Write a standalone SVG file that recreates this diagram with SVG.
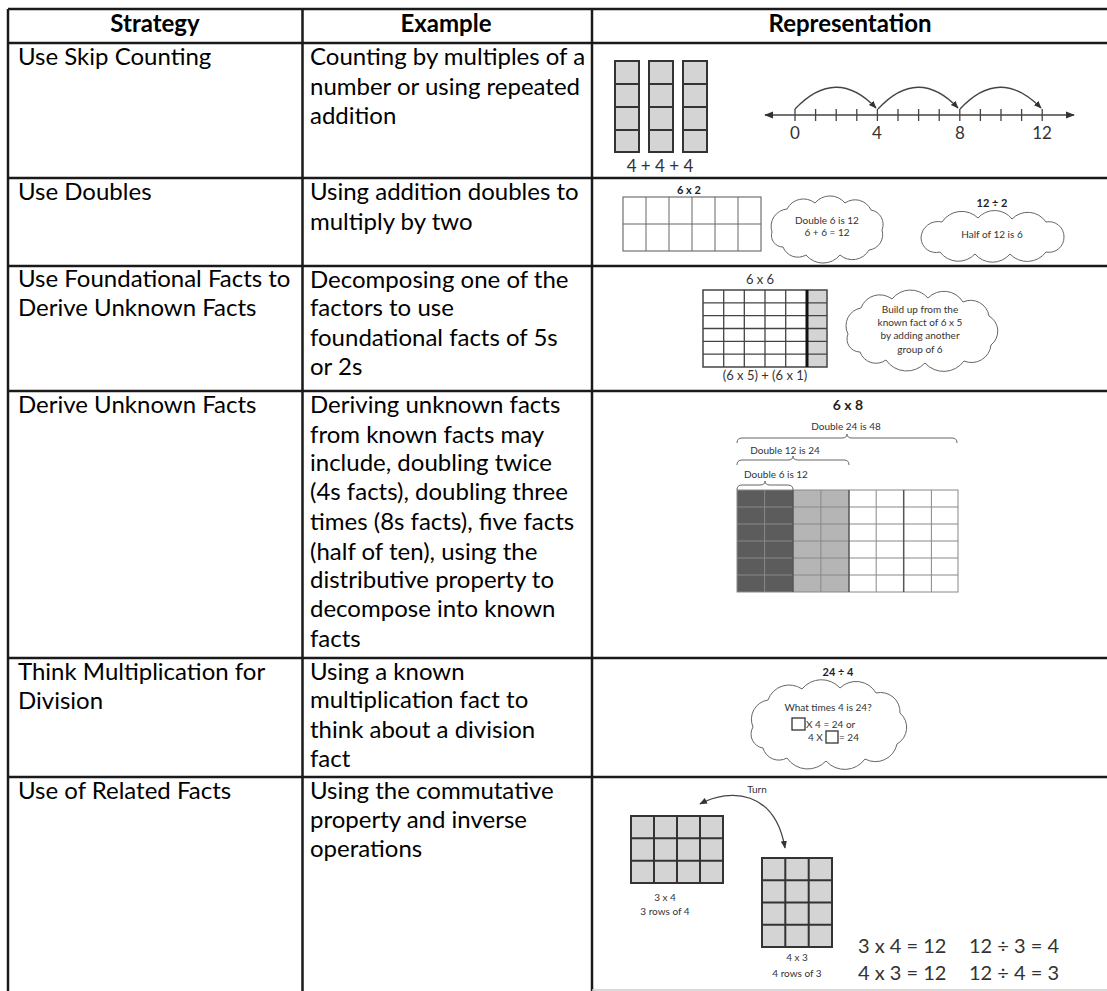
<svg xmlns="http://www.w3.org/2000/svg" width="1107" height="991" viewBox="0 0 1107 991">
<style>
.t{font-family:Lato,"Open Sans","Liberation Sans",sans-serif;font-size:24px;fill:#000}
.h{font-family:Lato,"Open Sans","Liberation Sans",sans-serif;font-size:24px;font-weight:bold;fill:#000;text-anchor:middle}
.s{font-family:Lato,"Liberation Sans",sans-serif;font-size:10px;fill:#333;text-anchor:middle}
.sb{font-family:Lato,"Liberation Sans",sans-serif;font-size:11px;font-weight:bold;fill:#222;text-anchor:middle}
.m{font-family:Lato,"Liberation Sans",sans-serif;font-size:13px;fill:#333;text-anchor:middle}
.num{font-family:Lato,"Liberation Sans",sans-serif;font-size:17px;fill:#333;text-anchor:middle}
.eq{font-family:Lato,"Liberation Sans",sans-serif;font-size:20px;fill:#333}
.grid{stroke:#333;stroke-width:2;fill:#d4d4d4}
.thin{stroke:#666;stroke-width:1;fill:none}
.cloud{stroke:#666;stroke-width:1;fill:#fff}
.tbl{stroke:#1a1a1a;stroke-width:2.5;fill:none}
.arc{stroke:#444;stroke-width:1.3;fill:none}
</style>
<defs>
<marker id="ah" viewBox="0 0 10 10" refX="9" refY="5" markerWidth="6" markerHeight="6" orient="auto"><path d="M0,1 L10,5 L0,9 Z" fill="#333"/></marker>
<marker id="ahs" viewBox="0 0 10 10" refX="1" refY="5" markerWidth="6" markerHeight="6" orient="auto"><path d="M10,1 L0,5 L10,9 Z" fill="#333"/></marker>
</defs>
<rect width="1107" height="991" fill="#fff"/>

<g id="table">
<path class="tbl" d="M8,9 H1107 M8,43 H1107 M8,178 H1107 M8,266 H1107 M8,391 H1107 M8,658 H1107 M8,777 H1107 M8,9 V991 M302.5,9 V991 M592,9 V991"/>
<line x1="592" y1="990" x2="1107" y2="990" stroke="#ccc" stroke-width="1.5"/>
</g>

<g id="header">
<text class="h" x="155" y="32">Strategy</text>
<text class="h" x="446" y="32">Example</text>
<text class="h" x="850" y="32">Representation</text>
</g>

<g id="row1">
<text class="t" x="18" y="65">Use Skip Counting</text>
<text class="t" x="310" y="65">Counting by multiples of a</text>
<text class="t" x="310" y="95">number or using repeated</text>
<text class="t" x="310" y="124">addition</text>
<g id="bars">
<rect class="grid" x="615" y="61" width="24" height="91"/>
<rect class="grid" x="649" y="61" width="24" height="91"/>
<rect class="grid" x="683" y="61" width="24" height="91"/>
<path stroke="#333" stroke-width="2" d="M615,84 H639 M615,107 H639 M615,130 H639 M649,84 H673 M649,107 H673 M649,130 H673 M683,84 H707 M683,107 H707 M683,130 H707"/>
<text class="num" x="660" y="172">4 + 4 + 4</text>
</g>
<g id="numberline">
<line x1="765" y1="115" x2="1074" y2="115" stroke="#444" stroke-width="1.5" marker-start="url(#ahs)" marker-end="url(#ah)"/>
<path stroke="#444" stroke-width="1.3" d="M795,109 V121 M815.6,109 V121 M836.2,109 V121 M856.8,109 V121 M877.4,109 V121 M898,109 V121 M918.6,109 V121 M939.2,109 V121 M959.8,109 V121 M980.4,109 V121 M1001,109 V121 M1021.6,109 V121 M1042.2,109 V121"/>
<text class="num" x="795" y="139">0</text>
<text class="num" x="877" y="139">4</text>
<text class="num" x="960" y="139">8</text>
<text class="num" x="1042" y="139">12</text>
<path class="arc" d="M795,109 Q836,66 876,108" marker-end="url(#ah)"/>
<path class="arc" d="M878,109 Q918,66 958,108" marker-end="url(#ah)"/>
<path class="arc" d="M960,109 Q1000,66 1041,108" marker-end="url(#ah)"/>
</g>
</g>

<g id="row2">
<text class="t" x="18" y="200">Use Doubles</text>
<text class="t" x="310" y="200">Using addition doubles to</text>
<text class="t" x="310" y="230">multiply by two</text>
<text class="sb" x="689" y="194">6 x 2</text>
<rect x="623" y="197" width="138" height="54" fill="#fff" stroke="#555" stroke-width="1"/>
<path class="thin" d="M646,197 V251 M669,197 V251 M692,197 V251 M715,197 V251 M738,197 V251 M623,224 H761"/>
<path class="cloud" d="M772,232 A17.5,17.5 0 0 1 787,209 A18.5,18.5 0 0 1 815,203 A19.5,19.5 0 0 1 845,203 A17.5,17.5 0 0 1 871,210 A14.6,14.6 0 0 1 882,230 A15.5,15.5 0 0 1 869,250 A19,19 0 0 1 840,255 A22,22 0 0 1 806,255 A16,16 0 0 1 783,247 A11.5,11.5 0 0 1 772,232 Z"/>
<text class="s" x="827" y="224">Double 6 is 12</text>
<text class="s" x="827" y="236">6 + 6 = 12</text>
<text class="sb" x="992" y="207">12 ÷ 2</text>
<path class="cloud" d="M921,238 A17,17 0 0 1 942,222 A23.5,23.5 0 0 1 978,218 A22.1,22.1 0 0 1 1012,219 A22,22 0 0 1 1046,222 A15,15 0 0 1 1064,237 A15,15 0 0 1 1046,252 A23.5,23.5 0 0 1 1010,254 A22.8,22.8 0 0 1 975,254 A22.8,22.8 0 0 1 940,252 A15,15 0 0 1 921,238 Z"/>
<text class="s" x="992" y="238">Half of 12 is 6</text>
</g>

<g id="row3">
<text class="t" x="18" y="287">Use Foundational Facts to</text>
<text class="t" x="18" y="316">Derive Unknown Facts</text>
<text class="t" x="310" y="288">Decomposing one of the</text>
<text class="t" x="310" y="316">factors to use</text>
<text class="t" x="310" y="346">foundational facts of 5s</text>
<text class="t" x="310" y="375">or 2s</text>
<text class="m" x="760" y="284">6 x 6</text>
<rect x="807" y="290" width="20" height="77" fill="#d4d4d4"/>
<rect x="703" y="290" width="124" height="77" fill="none" stroke="#444" stroke-width="1.5"/>
<path stroke="#444" stroke-width="1.3" d="M723.7,290 V367 M744.3,290 V367 M765,290 V367 M785.7,290 V367 M703,302.8 H827 M703,315.7 H827 M703,328.5 H827 M703,341.3 H827 M703,354.2 H827"/>
<line x1="807" y1="290" x2="807" y2="367" stroke="#111" stroke-width="3"/>
<text class="m" x="765" y="380">(6 x 5) + (6 x 1)</text>
<path class="cloud" d="M848,334 A18,18 0 0 1 861,308 A20,20 0 0 1 892,299 A23.4,23.4 0 0 1 928,298 A22.3,22.3 0 0 1 963,302 A18.5,18.5 0 0 1 989,316 A17.5,17.5 0 0 1 991,345 A19.5,19.5 0 0 1 964,361 A25,25 0 0 1 925,363 A25,25 0 0 1 886,360 A17,17 0 0 1 860,352 A13,13 0 0 1 848,334 Z"/>
<text class="s" x="920" y="313">Build up from the</text>
<text class="s" x="920" y="326">known fact of 6 x 5</text>
<text class="s" x="920" y="339">by adding another</text>
<text class="s" x="920" y="353">group of 6</text>
</g>

<g id="row4">
<text class="t" x="18" y="413">Derive Unknown Facts</text>
<text class="t" x="310" y="413">Deriving unknown facts</text>
<text class="t" x="310" y="443">from known facts may</text>
<text class="t" x="310" y="471">include, doubling twice</text>
<text class="t" x="310" y="500">(4s facts), doubling three</text>
<text class="t" x="310" y="530">times (8s facts), five facts</text>
<text class="t" x="310" y="560">(half of ten), using the</text>
<text class="t" x="310" y="588">distributive property to</text>
<text class="t" x="310" y="617">decompose into known</text>
<text class="t" x="310" y="647">facts</text>
<text class="sb" x="848" y="410" style="font-size:14px">6 x 8</text>
<text class="s" x="846" y="430">Double 24 is 48</text>
<path class="thin" d="M737,443 Q737,438 742,438 L842,438 Q847,438 847,434 Q847,438 852,438 L952,438 Q957,438 957,443"/>
<text class="s" x="785" y="454">Double 12 is 24</text>
<path class="thin" d="M737,465 Q737,460 742,460 L788,460 Q793,460 793,456 Q793,460 798,460 L844,460 Q849,460 849,465"/>
<text class="s" x="776" y="478">Double 6 is 12</text>
<path class="thin" d="M737,490 Q737,485 742,485 L760,485 Q765,485 765,481 Q765,485 770,485 L788,485 Q793,485 793,490"/>
<rect x="737" y="490" width="56" height="102" fill="#5c5c5c"/>
<rect x="793" y="490" width="56" height="102" fill="#b5b5b5"/>
<rect x="737" y="490" width="221" height="102" fill="none" stroke="#888" stroke-width="1"/>
<path stroke="#888" stroke-width="1" d="M764.6,490 V592 M820.9,490 V592 M876.2,490 V592 M931.4,490 V592 M737,507 H958 M737,524 H958 M737,541 H958 M737,558 H958 M737,575 H958"/>
<path stroke="#555" stroke-width="1.5" d="M793,490 V592 M849,490 V592 M903.7,490 V592"/>
</g>

<g id="row5">
<text class="t" x="18" y="680">Think Multiplication for</text>
<text class="t" x="18" y="709">Division</text>
<text class="t" x="310" y="680">Using a known</text>
<text class="t" x="310" y="708">multiplication fact to</text>
<text class="t" x="310" y="738">think about a division</text>
<text class="t" x="310" y="767">fact</text>
<text class="sb" x="838" y="676">24 ÷ 4</text>
<path class="cloud" d="M753,727 A19.5,19.5 0 0 1 768,700 A22.5,22.5 0 0 1 802,689 A25,25 0 0 1 840,688 A23,23 0 0 1 876,693 A19.5,19.5 0 0 1 900,713 A19,19 0 0 1 897,744 A22,22 0 0 1 865,759 A25,25 0 0 1 826,761 A25,25 0 0 1 787,758 A16.5,16.5 0 0 1 763,748 A14,14 0 0 1 753,727 Z"/>
<text class="s" x="828" y="711">What times 4 is 24?</text>
<rect x="792" y="718" width="13" height="12" fill="none" stroke="#333" stroke-width="1.3"/>
<text class="s" x="806" y="728" style="text-anchor:start">X 4 = 24 or</text>
<text class="s" x="808" y="741" style="text-anchor:start">4 X</text>
<rect x="826" y="731" width="12" height="12" fill="none" stroke="#333" stroke-width="1.3"/>
<text class="s" x="839" y="741" style="text-anchor:start">= 24</text>
</g>

<g id="row6">
<text class="t" x="18" y="799">Use of Related Facts</text>
<text class="t" x="310" y="799">Using the commutative</text>
<text class="t" x="310" y="828">property and inverse</text>
<text class="t" x="310" y="857">operations</text>
<text class="s" x="757" y="793">Turn</text>
<path class="arc" d="M700,804 C730,788 775,790 785,848" marker-start="url(#ahs)" marker-end="url(#ah)"/>
<rect class="grid" x="631" y="816" width="92" height="67"/>
<path stroke="#333" stroke-width="2" d="M654,816 V883 M677,816 V883 M700,816 V883 M631,838.3 H723 M631,860.7 H723"/>
<text class="s" x="665" y="901">3 x 4</text>
<text class="s" x="665" y="915">3 rows of 4</text>
<rect class="grid" x="762" y="858" width="70" height="89"/>
<path stroke="#333" stroke-width="2" d="M785.3,858 V947 M808.7,858 V947 M762,880.3 H832 M762,902.5 H832 M762,924.8 H832"/>
<text class="s" x="797" y="961">4 x 3</text>
<text class="s" x="797" y="977">4 rows of 3</text>
<text class="eq" x="858" y="953">3 x 4 = 12</text>
<text class="eq" x="969" y="953">12 ÷ 3 = 4</text>
<text class="eq" x="858" y="980">4 x 3 = 12</text>
<text class="eq" x="969" y="980">12 ÷ 4 = 3</text>
</g>
</svg>
